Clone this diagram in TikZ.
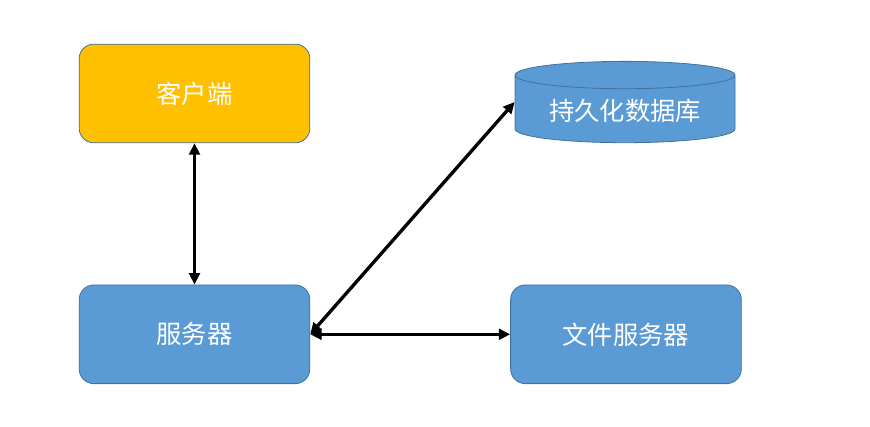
\documentclass[tikz,border=0pt]{standalone}
\usepackage{fontspec}
\newfontfamily\cjk{Noto Sans CJK SC}
\usetikzlibrary{arrows.meta,positioning,shapes.geometric}
\definecolor{gold}{HTML}{FFC000}
\definecolor{skyblue}{HTML}{5B9BD5}
\definecolor{edgeblue}{HTML}{41719C}

\begin{document}
\begin{tikzpicture}[
  x=0.75pt, y=-0.75pt,
  node distance=106pt and 150pt,
  every node/.style={font=\cjk\fontsize{19}{22}\selectfont, text=white},
  box/.style={draw=edgeblue, rounded corners=11pt, line width=0.6pt,
              minimum width=173pt, minimum height=74pt, align=center},
  client/.style={box, fill=gold},
  srv/.style={box, fill=skyblue},
  store/.style={cylinder, shape border rotate=90, aspect=0.17, draw=edgeblue,
                fill=skyblue, line width=0.6pt, minimum width=165pt, minimum height=61pt},
  link/.style={{Triangle[length=8.5pt,width=8pt]}-{Triangle[length=8.5pt,width=8pt]},
               line width=2.5pt},
]
  \useasboundingbox (0,0) rectangle (870,427);
  \node[client] (kh) at (194.5,93.5) {客户端};
  \node[srv, below=of kh] (fwq) {服务器};
  \node[srv, right=of fwq] (wj) {文件服务器};
  \node[store] (db) at (625,111) {持久化数据库};
  \draw[link] (kh) -- (fwq);
  \draw[link] (fwq.east) -- (wj.west);
  \draw[link] (fwq.east) -- (db.west |- db.shape center);
\end{tikzpicture}
\end{document}
